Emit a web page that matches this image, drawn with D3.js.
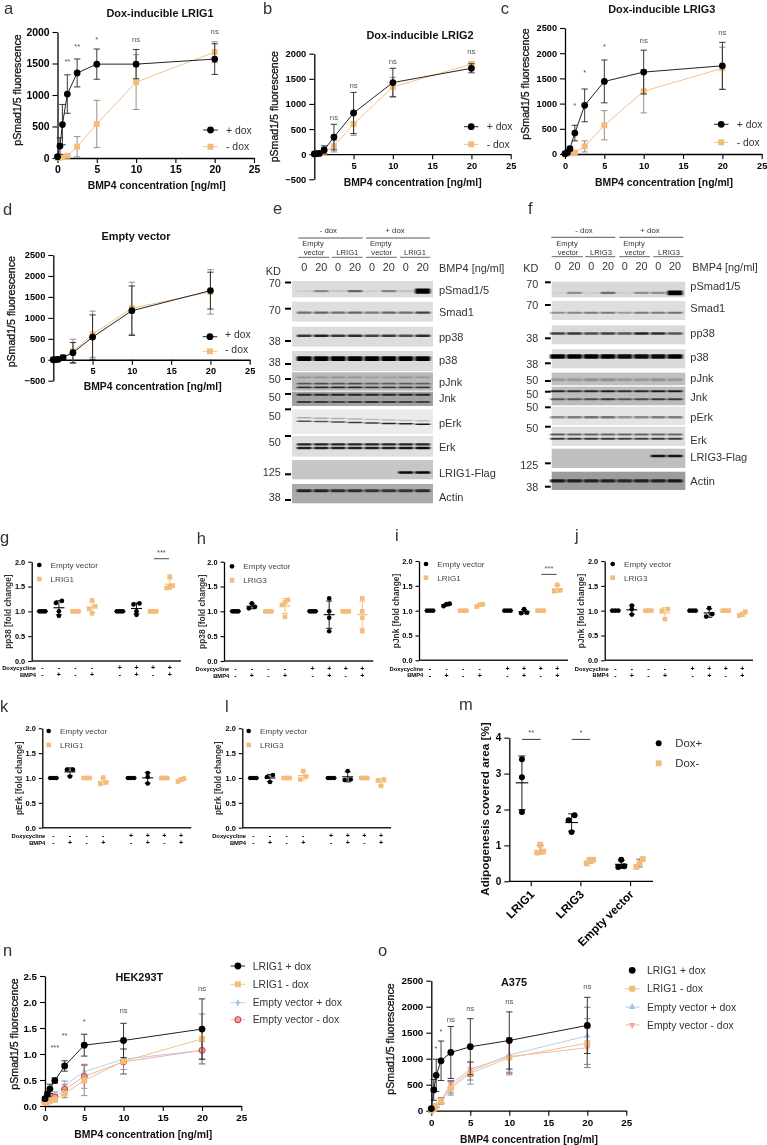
<!DOCTYPE html>
<html><head><meta charset="utf-8">
<script src="https://cdn.jsdelivr.net/npm/d3@7"></script>
<style>
html,body{margin:0;padding:0;background:#fff}
svg{display:block;filter:blur(0.4px)}
text{font-family:"Liberation Sans",Arial,sans-serif}
</style></head><body>
<svg id="c" width="767" height="1145" viewBox="0 0 767 1145"></svg>
<script>
/* ---------- DATA ---------- */
const conc = [0, 0.3125, 0.625, 1.25, 2.5, 5, 10, 20];
const xTicksDose = [0, 5, 10, 15, 20, 25];

const aPlus   = [20, 190, 530, 1015, 1350, 1490, 1490, 1570];
const aPlusSd = [10, 130, 320, 305, 222, 240, 232, 243];
const aMinus  = [5, 5, 15, 35, 180, 540, 1205, 1680];
const aMinusSd= [5, 5, 10, 15, 160, 375, 435, 165];
const aSig = [[1.25,1555,"**"],[2.5,1793,"**"],[5,1905,"*"],[10,1889,"ns"],[20,2008,"ns"]];

const bPlus   = [5, 10, 15, 85, 340, 820, 1425, 1710];
const bPlusSd = [10, 10, 20, 80, 255, 410, 285, 90];
const bMinus  = [0, 5, 5, 30, 160, 600, 1340, 1790];
const bMinusSd= [5, 5, 10, 25, 115, 225, 190, 50];
const bSig = [[2.5,730,"ns"],[5,1370,"ns"],[10,1848,"ns"],[20,2040,"ns"]];

const cPlus   = [5, 30, 105, 415, 965, 1440, 1625, 1750];
const cPlusSd = [5, 20, 40, 155, 325, 425, 435, 465];
const cMinus  = [0, 5, 15, 30, 150, 570, 1245, 1700];
const cMinusSd= [5, 5, 10, 15, 110, 290, 430, 420];
const cSig = [[1.25,992,"*"],[2.5,1652,"*"],[5,2157,"*"],[10,2262,"ns"],[20,2415,"ns"]];

const dPlus   = [0, 5, 10, 50, 170, 540, 1170, 1650];
const dPlusSd = [5, 10, 15, 50, 240, 530, 590, 440];
const dMinus  = [0, 5, 10, 60, 200, 610, 1230, 1620];
const dMinusSd= [5, 10, 15, 60, 290, 550, 620, 530];

const nL1Plus   = [0.14, 0.23, 0.33, 0.49, 0.77, 1.17, 1.26, 1.48];
const nL1PlusSd = [0.03, 0.05, 0.09, 0.05, 0.10, 0.21, 0.33, 0.58];
const nL1Minus  = [0.06, 0.08, 0.10, 0.13, 0.24, 0.49, 0.86, 1.29];
const nL1MinusSd= [0.02, 0.02, 0.03, 0.05, 0.08, 0.29, 0.24, 0.48];
const nEvPlus   = [0.09, 0.12, 0.17, 0.22, 0.40, 0.66, 0.90, 1.07];
const nEvPlusSd = [0.02, 0.03, 0.03, 0.05, 0.08, 0.14, 0.20, 0.17];
const nEvMinus  = [0.08, 0.10, 0.13, 0.17, 0.32, 0.57, 0.85, 1.07];
const nEvMinusSd= [0.02, 0.03, 0.03, 0.05, 0.09, 0.23, 0.24, 0.26];
const nSig = [[1.25,1.16,"***"],[2.5,1.39,"**"],[5,1.66,"*"],[10,1.84,"ns"],[20,2.26,"ns"]];

const oL1Plus   = [40, 400, 680, 960, 1120, 1230, 1350, 1640];
const oL1PlusSd = [20, 200, 310, 380, 500, 540, 550, 540];
const oL1Minus  = [5, 30, 90, 185, 430, 720, 1020, 1300];
const oL1MinusSd= [5, 15, 30, 60, 130, 210, 330, 470];
const oEvPlus   = [5, 35, 95, 195, 460, 760, 1070, 1440];
const oEvPlusSd = [5, 15, 30, 50, 120, 170, 330, 550];
const oEvMinus  = [5, 30, 90, 190, 510, 800, 1040, 1210];
const oEvMinusSd= [5, 15, 30, 50, 60, 140, 320, 380];
const oSig = [[0.6,1219,"*"],[1.25,1552,"*"],[2.5,1757,"ns"],[5,1969,"ns"],[10,2103,"ns"],[20,2398,"ns"]];

const doxRow = ["-","-","-","-","+","+","+","+"];
const bmpRow = ["-","+","-","+","-","+","-","+"];
const foldTicks = [0, 0.5, 1, 1.5, 2];

const one4 = [1,1,1,1], one3 = [1,1,1];
const gVals = [one4,[0.91,1.0,1.17,1.21],one4,[0.96,1.05,1.1,1.22],one4,[0.93,1.0,1.14,1.16],one4,[1.47,1.5,1.52,1.7]];
const hVals = [one4,[1.06,1.09,1.16],one4,[0.89,1.13,1.18,1.23],one4,[0.6,0.87,1.0,1.26],one4,[0.6,0.87,1.0,1.26]];
const iVals = [one3,[1.09,1.13,1.14],one3,[1.08,1.12,1.13],one3,[0.95,0.96,1.03],one3,[1.39,1.41,1.52]];
const jVals = [one3,[0.92,1.03,1.1],one3,[0.83,1.0,1.03],one3,[0.88,0.93,1.05],one3,[0.9,0.92,0.98]];
const kVals = [one3,[1.03,1.17,1.17],one3,[0.88,0.91,1.01],one3,[0.89,1.02,1.1],one3,[0.93,0.97,0.99]];
const lVals = [one3,[0.92,1.02,1.06],one3,[0.97,1.03,1.14],one3,[0.96,0.97,1.14],one3,[0.84,0.95,0.97]];

const mCats = ["LRIG1","LRIG3","Empty vector"];
const mPlus  = [[1.93,2.9,3.4],[1.37,1.7,1.84],[0.4,0.42,0.6]];
const mMinus = [[0.8,0.83,1.02],[0.5,0.6,0.6],[0.4,0.5,0.62]];
const mTicks = [0,1,2,3,4];
const mSig = ["**","*",null];

const laneNums = ["0","20","0","20","0","20","0","20"];
const eLabels = ["pSmad1/5","Smad1","pp38","p38","pJnk","Jnk","pErk","Erk","LRIG1-Flag","Actin"];
const fLabels = ["pSmad1/5","Smad1","pp38","p38","pJnk","Jnk","pErk","Erk","LRIG3-Flag","Actin"];
const eKd = ["70","70","38","38","50","50","50","50","125","38"];
const fKd = ["70","70","38","38","50","50","50","50","125","38"];

/* blot band intensities, one list per band, one number per lane */
const ePSmad=[[.06,.38,.1,.55,.06,.4,.12,1]];
const eSmad1=[[.5,.55,.5,.55,.45,.55,.5,.7]];
const ePp38 =[[.75,.85,.75,.8,.7,.75,.65,.8]];
const eP38  =[[1,1,1,1,1,1,1,1]];
const ePJnk =[[.2,.22,.22,.22,.15,.15,.2,.2],[.55,.6,.55,.6,.5,.5,.5,.5],[.75,.8,.8,.8,.7,.7,.7,.7]];
const eJnk  =[[.8,.8,.8,.8,.8,.8,.8,.8],[.65,.65,.6,.65,.7,.65,.6,.6]];
const ePErk =[[.25,.28,.25,.25,.2,.2,.2,.2],[.65,.65,.7,.75,.75,.85,.85,.9]];
const eErk  =[[.85,.85,.85,.85,.85,.85,.85,.85],[.85,.85,.85,.85,.85,.85,.9,.95]];
const eFlag =[[0,0,0,0,0,0,.95,.98]];
const eActin=[[.8,.8,.75,.75,.7,.7,.7,.75]];
const blotE=[ePSmad,eSmad1,ePp38,eP38,ePJnk,eJnk,ePErk,eErk,eFlag,eActin];

const fPSmad=[[.03,.35,.05,.5,.05,.35,.35,1]];
const fSmad1=[[.35,.4,.45,.45,.3,.45,.45,.5]];
const fPp38 =[[.7,.75,.65,.7,.6,.85,.8,.6]];
const fP38  =[[1,1,1,1,.95,.95,.95,1]];
const fPJnk =[[.2,.2,.25,.25,.2,.2,.25,.2]];
const fJnk  =[[.8,.75,.8,.85,.75,.8,.85,.85],[.55,.55,.6,.7,.55,.6,.7,.7]];
const fPErk =[[.4,.45,.5,.5,.35,.4,.45,.45]];
const fErk  =[[.6,.55,.55,.55,.55,.55,.55,.55],[.75,.75,.75,.75,.7,.7,.75,.75]];
const fFlag =[[0,0,0,0,0,0,.9,.9]];
const fActin=[[.85,.8,.8,.8,.75,.8,.8,.85]];
const blotF=[fPSmad,fSmad1,fPp38,fP38,fPJnk,fJnk,fPErk,fErk,fFlag,fActin];

/* ---------- STYLE ---------- */
const ORANGE="#F3BC7A", INK="#111";
const sty={
  plus:{sym:d3.symbolCircle,size:36,fill:"#000",stroke:"none",line:"#222",err:"#222"},
  minus:{sym:d3.symbolSquare,size:35,fill:ORANGE,stroke:"none",line:"#F3C188",err:"#8f8572"},
  evDia:{sym:d3.symbolDiamond,size:16,fill:"#A9C3E6",stroke:"none",line:"#B8CEEC",err:"#6d8dc2"},
  evRing:{sym:d3.symbolCircle,size:26,fill:"#F2A9A0",stroke:"#CF4A3D",line:"#F2B0A8",err:"#d5786a"},
  evUp:{sym:d3.symbolTriangle,size:20,fill:"#A9C3E6",stroke:"none",line:"#B8CEEC",err:"#4f72ad"},
  evDown:{sym:d3.symbolTriangle,size:20,flip:true,fill:"#F4A8A0",stroke:"none",line:"#F4B5AD",err:"#cc5a50"}
};
const svg=d3.select("#c");
const defs=svg.append("defs");
defs.append("filter").attr("id","bl").attr("x","-20%").attr("y","-100%").attr("width","140%").attr("height","300%")
  .append("feGaussianBlur").attr("stdDeviation","0.8 0.65");

function label(x,y,t,o={}){
  const s=svg.append("text").attr("x",x).attr("y",y).attr("dy",o.dy||"0.35em").text(t)
    .attr("font-size",o.fs||10).attr("fill",o.fill||INK)
    .attr("font-weight",o.w||"normal").attr("text-anchor",o.a||"middle");
  if(o.rot) s.attr("transform",`rotate(${o.rot},${x},${y})`);
  if(o.med) s.attr("stroke",o.fill||INK).attr("stroke-width",o.med);
  return s;
}
function marker(g,st,x,y){
  g.append("path").attr("d",d3.symbol().type(st.sym).size(st.size)())
   .attr("transform",`translate(${x},${y})${st.flip?" rotate(180)":""}`)
   .attr("fill",st.fill).attr("stroke",st.stroke).attr("stroke-width",st.stroke==="none"?0:1.1);
}
function styleAxis(g,fs){
  g.selectAll("path.domain").attr("stroke","#000").attr("stroke-width",1.3);
  g.selectAll("line").attr("stroke","#000").attr("stroke-width",1.1);
  g.selectAll("text").attr("font-family",'"Liberation Sans",Arial,sans-serif').attr("font-weight","bold").attr("font-size",fs).attr("fill","#000");
}

/* ---------- dose-response panels ---------- */
function dose(c){
  const x=d3.scaleLinear().domain([0,25]).range([c.x0,c.x1]);
  const y=d3.scaleLinear().domain(c.yDom).range([c.yB,c.yT]);
  const g=svg.append("g");
  g.append("g").attr("transform",`translate(${c.x0},0)`)
    .call(d3.axisLeft(y).tickValues(c.yTicks).tickSize(5).tickSizeOuter(0).tickFormat(c.yFmt||d3.format("d")))
    .call(s=>styleAxis(s,c.tickFs||9.6));
  const xTicksUse=c.no0?xTicksDose.slice(1):xTicksDose;
  g.append("g").attr("transform",`translate(0,${y(0)})`)
    .call(d3.axisBottom(x).tickValues(xTicksUse).tickSize(5).tickSizeOuter(0))
    .call(s=>styleAxis(s,c.tickFs||9.6));
  const line=d3.line().x((d,i)=>x(conc[i])).y(d=>y(d));
  c.series.forEach(s=>{
    const st=sty[s.style], sg=g.append("g");
    sg.append("path").attr("d",line(s.v)).attr("fill","none").attr("stroke",st.line).attr("stroke-width",1);
    s.v.forEach((v,i)=>{
      const px=x(conc[i]),a=y(v+s.sd[i]),b=y(Math.max(v-s.sd[i],c.yDom[0]));
      sg.append("line").attr("x1",px).attr("x2",px).attr("y1",a).attr("y2",b).attr("stroke",st.err).attr("stroke-width",.9);
      [a,b].forEach(q=>sg.append("line").attr("x1",px-3.2).attr("x2",px+3.2).attr("y1",q).attr("y2",q).attr("stroke",st.err).attr("stroke-width",.9));
    });
    s.v.forEach((v,i)=>marker(sg,st,x(conc[i]),y(v)));
  });
  (c.sig||[]).forEach(d=>label(x(d[0]),y(d[1]),d[2],{fs:d[2]==="ns"?7.8:7.5,fill:"#555",dy:d[2]==="ns"?"0.35em":"0.55em"}));
  label(c.tx,c.ty,c.title,{fs:10.9,w:"bold"});
  label(c.lx,c.ly,"BMP4 concentration [ng/ml]",{fs:10.4,w:"bold"});
  label(c.yx,c.yy,"pSmad1/5 fluorescence",{fs:10.6,rot:-90,med:.3});
  c.legend.forEach(l=>{
    if(l.line!==false) g.append("line").attr("x1",c.legX0).attr("x2",c.legX0+14.5).attr("y1",l.y).attr("y2",l.y).attr("stroke",l.style==="plus"?"#222":sty[l.style].line).attr("stroke-width",1);
    marker(g,sty[l.style],c.legX0+7.2,l.y);
    label(c.legTx,l.y+(c.legDy||0),l.t,{fs:c.legFs||10.4,a:"start",fill:"#333"});
  });
}
dose({x0:57.5,x1:254,yT:32,yB:158,yDom:[0,2000],yTicks:[0,500,1000,1500,2000],tickFs:10.4,
 series:[{style:"minus",v:aMinus,sd:aMinusSd},{style:"plus",v:aPlus,sd:aPlusSd}],sig:aSig,
 title:"Dox-inducible LRIG1",tx:160,ty:12.7,lx:156.7,ly:185.7,yx:17.3,yy:90,
 legX0:203.3,legTx:226,legend:[{y:130,style:"plus",t:"+ dox"},{y:146.7,style:"minus",t:"- dox"}]});
dose({x0:314.3,x1:510.7,yT:53.7,yB:179.3,yDom:[-500,2000],yTicks:[-500,0,500,1000,1500,2000],no0:true,tickFs:9.3,
 series:[{style:"minus",v:bMinus,sd:bMinusSd},{style:"plus",v:bPlus,sd:bPlusSd}],sig:bSig,
 title:"Dox-inducible LRIG2",tx:420,ty:35,lx:412.7,ly:182,yx:274.3,yy:106.7,
 legX0:464,legTx:486.7,legend:[{y:126.7,style:"plus",t:"+ dox"},{y:144.3,style:"minus",t:"- dox"}]});
dose({x0:565,x1:761.7,yT:28,yB:154,yDom:[0,2500],yTicks:[0,500,1000,1500,2000,2500],tickFs:9.2,
 series:[{style:"minus",v:cMinus,sd:cMinusSd},{style:"plus",v:cPlus,sd:cPlusSd}],sig:cSig,
 title:"Dox-inducible LRIG3",tx:661.7,ty:9.3,lx:664,ly:182,yx:525,yy:84,
 legX0:714,legTx:736.7,legend:[{y:124.3,style:"plus",t:"+ dox"},{y:142.3,style:"minus",t:"- dox"}]});
dose({x0:53.3,x1:249.7,yT:255,yB:380.7,yDom:[-500,2500],yTicks:[-500,0,500,1000,1500,2000,2500],no0:true,tickFs:9.2,
 series:[{style:"minus",v:dMinus,sd:dMinusSd},{style:"plus",v:dPlus,sd:dPlusSd}],
 title:"Empty vector",tx:136,ty:236,lx:152.7,ly:386.7,yx:11.7,yy:311.7,
 legX0:202.7,legTx:225,legDy:-2,legend:[{y:336.7,style:"plus",t:"+ dox"},{y:351.3,style:"minus",t:"- dox"}]});
dose({x0:45,x1:241.3,yT:976,yB:1106,yDom:[0,2.5],yTicks:[0,.5,1,1.5,2,2.5],yFmt:d3.format(".1f"),tickFs:9.8,
 series:[{style:"evDia",v:nEvPlus,sd:nEvPlusSd},{style:"evRing",v:nEvMinus,sd:nEvMinusSd},{style:"minus",v:nL1Minus,sd:nL1MinusSd},{style:"plus",v:nL1Plus,sd:nL1PlusSd}],sig:nSig,
 title:"HEK293T",tx:139.3,ty:977.3,lx:143.3,ly:1134.3,yx:14.3,yy:1034,
 legX0:230.7,legTx:252.7,legend:[{y:966,style:"plus",t:"LRIG1 + dox"},{y:984.3,style:"minus",t:"LRIG1 - dox"},{y:1002.7,style:"evDia",t:"Empty vector + dox"},{y:1019.7,style:"evRing",t:"Empty vector - dox"}]});
dose({x0:431.3,x1:626.3,yT:980.7,yB:1110.7,yDom:[0,2500],yTicks:[0,500,1000,1500,2000,2500],tickFs:9.8,
 series:[{style:"evUp",v:oEvPlus,sd:oEvPlusSd},{style:"evDown",v:oEvMinus,sd:oEvMinusSd},{style:"minus",v:oL1Minus,sd:oL1MinusSd},{style:"plus",v:oL1Plus,sd:oL1PlusSd}],sig:oSig,
 title:"A375",tx:514,ty:981.7,lx:529,ly:1139,yx:390,yy:1039,
 legX0:625,legTx:647,legend:[{y:970.3,style:"plus",t:"LRIG1 + dox",line:false},{y:988.7,style:"minus",t:"LRIG1 - dox"},{y:1007,style:"evUp",t:"Empty vector + dox"},{y:1025,style:"evDown",t:"Empty vector - dox"}]});

/* ---------- fold-change dot plots ---------- */
function swarm(vals,y,thresh,spread){
  const s=vals.slice().sort(d3.ascending),out=[];let grp=[s[0]];
  const flush=()=>{const n=grp.length,st=n===2?spread.two:spread.span/(n-1||1);
    grp.forEach((v,i)=>out.push({v,off:n===1?0:(i-(n-1)/2)*st}));};
  for(let i=1;i<s.length;i++){ if(Math.abs(y(s[i])-y(grp[grp.length-1]))<thresh) grp.push(s[i]); else {flush();grp=[s[i]];}}
  flush();return out;
}
const slots=[0,1,2,3,4.67,5.67,6.67,7.67];
function fold(c){
  const slot=d3.scaleLinear().domain([0,7.67]).range([c.c0,c.c1]);
  const y=d3.scaleLinear().domain([0,2]).range([c.yB,c.yT]);
  const g=svg.append("g");
  g.append("g").attr("transform",`translate(${c.ax},0)`)
   .call(d3.axisLeft(y).tickValues(foldTicks).tickSize(3.5).tickSizeOuter(0).tickFormat(d3.format(".1f")))
   .call(s=>styleAxis(s,7.4));
  g.append("line").attr("x1",c.ax).attr("x2",c.xEnd).attr("y1",c.yB).attr("y2",c.yB).attr("stroke","#222").attr("stroke-width",1.4);
  c.vals.forEach((arr,i)=>{
    const cx=slot(slots[i]),isOr=(i%4)>1,col=isOr?ORANGE:"#000";
    const m=d3.mean(arr),sd=d3.deviation(arr);
    g.append("line").attr("x1",cx).attr("x2",cx).attr("y1",y(m+sd)).attr("y2",y(m-sd)).attr("stroke",col).attr("stroke-width",.9);
    [m+sd,m-sd].forEach(q=>g.append("line").attr("x1",cx-3).attr("x2",cx+3).attr("y1",y(q)).attr("y2",y(q)).attr("stroke",col).attr("stroke-width",.9));
    swarm(arr,y,3.2,{two:6,span:6}).forEach(p=>{
      marker(g,{sym:isOr?d3.symbolSquare:d3.symbolCircle,size:isOr?21:17,fill:col,stroke:"none"},cx+p.off,y(p.v));
    });
    g.append("line").attr("x1",cx-5.5).attr("x2",cx+5.5).attr("y1",y(m)).attr("y2",y(m)).attr("stroke",col).attr("stroke-width",1.1);
    label(cx,c.r1,doxRow[i],{fs:7,w:"bold",fill:"#000"});
    label(cx,c.r2,bmpRow[i],{fs:7,w:"bold",fill:"#000"});
  });
  label(c.rLab,c.r1,"Doxycycline",{fs:5.8,w:"bold",a:"end",fill:"#000"});
  label(c.rLab,c.r2,"BMP4",{fs:5.8,w:"bold",a:"end",fill:"#000"});
  label(c.ylx,(c.yT+c.yB)/2+.3,c.ylab,{fs:8.4,rot:-90,w:"bold",fill:"#333"});
  marker(g,{sym:d3.symbolCircle,size:17,fill:"#000",stroke:"none"},c.legX,c.leg1);
  marker(g,{sym:d3.symbolSquare,size:21,fill:ORANGE,stroke:"none"},c.legX,c.leg2);
  label(c.legX+11.3,c.leg1,"Empty vector",{fs:8.1,a:"start",fill:"#444"});
  label(c.legX+11.3,c.leg2,c.name,{fs:8.1,a:"start",fill:"#444"});
  if(c.sig!=null){
    const mid=(slot(slots[6])+slot(slots[7]))/2;
    g.append("line").attr("x1",mid-7.6).attr("x2",mid+7.6).attr("y1",y(c.sig)).attr("y2",y(c.sig)).attr("stroke","#333").attr("stroke-width",.9);
    label(mid,y(c.sig)-7,"***",{fs:7.5,fill:"#555",dy:"0.5em"});
  }
}
fold({vals:gVals,ax:31.7,xEnd:181,yT:561.7,yB:661,c0:42.3,c1:169.7,r1:667.7,r2:674.7,rLab:36,ylx:8.3,ylab:"pp38 [fold change]",legX:39.3,leg1:565,leg2:579,name:"LRIG1",sig:2.06});
fold({vals:hVals,ax:224,xEnd:373.3,yT:561.7,yB:661,c0:235.3,c1:362.3,r1:669,r2:676,rLab:229.3,ylx:201.7,ylab:"pp38 [fold change]",legX:232,leg1:566.3,leg2:580.3,name:"LRIG3"});
fold({vals:iVals,ax:419,xEnd:568,yT:561,yB:660.3,c0:430,c1:557.3,r1:668.7,r2:675.3,rLab:423.3,ylx:396,ylab:"pJnk [fold change]",legX:426,leg1:564,leg2:577.7,name:"LRIG1",sig:1.73});
fold({vals:jVals,ax:604.7,xEnd:753,yT:561,yB:660.3,c0:615.3,c1:742.3,r1:668.7,r2:675.3,rLab:608.7,ylx:581.3,ylab:"pJnk [fold change]",legX:612.7,leg1:564,leg2:577.7,name:"LRIG3"});
fold({vals:kVals,ax:42.3,xEnd:191.3,yT:728.3,yB:827.7,c0:53.3,c1:181,r1:836,r2:842.7,rLab:45.3,ylx:18.7,ylab:"pErk [fold change]",legX:48.7,leg1:731,leg2:745,name:"LRIG1"});
fold({vals:lVals,ax:242.3,xEnd:391,yT:728.3,yB:827.7,c0:253.3,c1:381,r1:836,r2:842.7,rLab:246,ylx:218.3,ylab:"pErk [fold change]",legX:248.7,leg1:731,leg2:745,name:"LRIG3"});

/* ---------- panel m ---------- */
(function(){
  const xb=d3.scaleBand().domain(mCats).range([506.4,655.4]);
  const y=d3.scaleLinear().domain([0,4]).range([881.3,737.7]);
  const g=svg.append("g");
  g.append("g").attr("transform","translate(509.3,0)")
   .call(d3.axisLeft(y).tickValues(mTicks).tickSize(5).tickSizeOuter(0).tickFormat(d3.format("d"))).call(s=>styleAxis(s,10));
  const xa=g.append("g").attr("transform","translate(0,881.3)")
   .call(d3.axisBottom(xb).tickSize(5).tickSizeOuter(0)).call(s=>styleAxis(s,11.6));
  xa.select("path.domain").attr("d","M509.3,0H653");
  xa.selectAll("text").attr("text-anchor","end").attr("transform","translate(1,11) rotate(-45)").attr("dy","0.35em").attr("y",0).attr("x",0);
  const drawSet=(sets,off,isOr)=>sets.forEach((arr,i)=>{
    const cx=xb(mCats[i])+xb.bandwidth()/2+off,m=d3.mean(arr),sd=d3.deviation(arr),col=isOr?"#666":"#000";
    g.append("line").attr("x1",cx).attr("x2",cx).attr("y1",y(m+sd)).attr("y2",y(m-sd)).attr("stroke",col).attr("stroke-width",.9);
    [m+sd,m-sd].forEach(q=>g.append("line").attr("x1",cx-3.5).attr("x2",cx+3.5).attr("y1",y(q)).attr("y2",y(q)).attr("stroke",col).attr("stroke-width",.9));
    swarm(arr,y,5.5,{two:6,span:6.5}).forEach(p=>{
      marker(g,{sym:isOr?d3.symbolSquare:d3.symbolCircle,size:isOr?34:28,fill:isOr?ORANGE:"#000",stroke:"none"},cx+p.off,y(p.v));
    });
    if(!isOr) g.append("line").attr("x1",cx-6.3).attr("x2",cx+6.3).attr("y1",y(m)).attr("y2",y(m)).attr("stroke","#000").attr("stroke-width",1.1);
  });
  drawSet(mPlus,-9.3,false); drawSet(mMinus,9,true);
  mSig.forEach((s,i)=>{ if(!s) return;
    const cx=xb(mCats[i])+xb.bandwidth()/2;
    g.append("line").attr("x1",cx-9.2).attr("x2",cx+9.4).attr("y1",739.4).attr("y2",739.4).attr("stroke","#222").attr("stroke-width",.9);
    label(cx,y(4)-6,s,{fs:7.5,fill:"#555",dy:"0.5em"});
  });
  label(485,809,"Adipogenesis covered area [%]",{fs:11.7,rot:-90,w:"bold",fill:"#111"});
  marker(g,{sym:d3.symbolCircle,size:28,fill:"#000",stroke:"none"},658.7,743.3);
  marker(g,{sym:d3.symbolSquare,size:34,fill:ORANGE,stroke:"none"},658.7,763.3);
  label(675.3,743.3,"Dox+",{fs:11.3,a:"start",fill:"#333"});
  label(675.3,763.3,"Dox-",{fs:11.3,a:"start",fill:"#333"});
})();

/* ---------- western blots ---------- */
function blot(c){
  const lane=d3.scalePoint().domain(d3.range(8)).range(c.lanes);
  const g=svg.append("g");
  const tc="#333";
  c.rows.forEach((r,ri)=>{
    g.append("rect").attr("x",c.bx0).attr("y",r.y0).attr("width",c.bx1-c.bx0).attr("height",r.y1-r.y0).attr("fill",r.bg);
    const bands=c.data[ri];
    const bg=g.append("g").attr("filter","url(#bl)");
    bands.forEach((b,bi)=>{
      b.forEach((v,li)=>{
        const h=r.h*(r.boost&&li===7&&ri===0?2.2:1);
        const yc=r.y0+(r.y1-r.y0)*r.f[bi]+(r.tilt||0)*li;
        bg.append("rect").attr("x",lane(li)-7.6).attr("y",yc-h/2).attr("width",15.2).attr("height",h)
          .attr("rx",1).attr("fill","#000").attr("opacity",v);
      });
    });
    label(c.rx,r.ly,c.labels[ri],{fs:11,a:"start",fill:tc});
    label(c.kdX,r.ky,c.kd[ri],{fs:10.8,a:"end",fill:tc});
    g.append("line").attr("x1",c.tx0).attr("x2",c.tx1).attr("y1",r.ty).attr("y2",r.ty).attr("stroke","#000").attr("stroke-width",2);
  });
  laneNums.forEach((t,i)=>label(lane(i),c.numY,t,{fs:10.8,fill:tc}));
  label(c.rx0,c.numY,"BMP4 [ng/ml]",{fs:10.9,a:"start",fill:tc});
  label(c.kdLab,c.kdY,"KD",{fs:10.9,a:"start",fill:tc});
  c.heads.forEach(h=>{
    label(h.cx,230,h.t,{fs:7.8,fill:tc});
    g.append("line").attr("x1",h.x0).attr("x2",h.x1).attr("y1",c.hy).attr("y2",c.hy).attr("stroke","#444").attr("stroke-width",.9);
  });
  c.subs.forEach(s=>{
    if(s.t==="Empty"){label(s.cx-1,243.3,"Empty",{fs:7.6,fill:tc});label(s.cx,252.7,"vector",{fs:7.6,fill:tc});}
    else label(s.cx,252.7,s.t,{fs:7.6,fill:tc});
    g.append("line").attr("x1",s.x0).attr("x2",s.x1).attr("y1",c.sy).attr("y2",c.sy).attr("stroke","#555").attr("stroke-width",.9);
  });
}
blot({data:blotE,labels:eLabels,kd:eKd,bx0:292,bx1:433,lanes:[304.3,422.7],rx:439,rx0:439,kdX:280.7,tx0:285,tx1:291,numY:267.7,kdLab:265.7,kdY:270.7,hy:238,sy:257.3,
 heads:[{t:"- dox",cx:328.3,x0:298.3,x1:362.7},{t:"+ dox",cx:395,x0:366,x1:430}],
 subs:[{t:"Empty",cx:314,x0:298.3,x1:329.3},{t:"LRIG1",cx:347.3,x0:332,x1:362.7},{t:"Empty",cx:381.7,x0:366,x1:396.7},{t:"LRIG1",cx:415,x0:400,x1:430}],
 rows:[
 {y0:281,y1:297.3,bg:"#dcdcdc",f:[.62],h:2.4,boost:true,ly:290,ky:283.3,ty:282.5},
 {y0:301.7,y1:321.7,bg:"#dedede",f:[.55],h:2.3,ly:311.7,ky:310,ty:308.7},
 {y0:326.7,y1:346.7,bg:"#dcdcdc",f:[.45],h:2.5,ly:336.7,ky:341,ty:341},
 {y0:351,y1:371,bg:"#dadada",f:[.38],h:4.6,ly:360,ky:362.7,ty:364},
 {y0:372.3,y1:390.7,bg:"#b9b9b9",f:[.28,.62,.82],h:1.8,ly:381.7,ky:379,ty:379},
 {y0:391.7,y1:406,bg:"#a2a2a2",f:[.22,.72],h:2,ly:398.3,ky:397.3,ty:394},
 {y0:409.3,y1:434,bg:"#ebebeb",f:[.34,.48],h:1.5,tilt:.45,ly:423.3,ky:416,ty:409.3},
 {y0:436,y1:456.7,bg:"#dedede",f:[.4,.58],h:2.3,ly:446.7,ky:442.3,ty:436},
 {y0:460,y1:479.3,bg:"#c6c6c6",f:[.65],h:2.5,ly:473.3,ky:472.7,ty:474.3},
 {y0:484,y1:503.3,bg:"#ababab",f:[.35],h:3,ly:496.7,ky:497.3,ty:500}
 ]});
blot({data:blotF,labels:fLabels,kd:fKd,bx0:551.7,bx1:685.3,lanes:[557.7,675],rx:690.3,rx0:692.3,kdX:538.3,tx0:545,tx1:550.7,numY:266.7,kdLab:523.3,kdY:268.3,hy:237.3,sy:256.7,
 heads:[{t:"- dox",cx:584,x0:551.3,x1:615.3},{t:"+ dox",cx:650,x0:619.3,x1:683.3}],
 subs:[{t:"Empty",cx:568,x0:551.7,x1:582.7},{t:"LRIG3",cx:601,x0:585.3,x1:615.3},{t:"Empty",cx:635,x0:619.3,x1:650},{t:"LRIG3",cx:669,x0:653.3,x1:683.3}],
 rows:[
 {y0:281.7,y1:297.3,bg:"#d9d9d9",f:[.72],h:2.2,boost:true,ly:285.7,ky:284.3,ty:282.3},
 {y0:301,y1:320,bg:"#dedede",f:[.62],h:2,ly:308,ky:305,ty:305},
 {y0:325.3,y1:344.3,bg:"#d9d9d9",f:[.43],h:2.6,ly:333,ky:338,ty:338.3},
 {y0:349.3,y1:368.3,bg:"#dadada",f:[.38],h:4.4,ly:356.7,ky:364,ty:363.3},
 {y0:372.7,y1:385.3,bg:"#c0c0c0",f:[.55],h:3,ly:378.3,ky:380.3,ty:381},
 {y0:386.7,y1:405.3,bg:"#bcbcbc",f:[.25,.68],h:2,ly:396.7,ky:394,ty:391.7},
 {y0:406.7,y1:425,bg:"#e4e4e4",f:[.58],h:2.6,ly:417.3,ky:407.3,ty:407.3},
 {y0:426.7,y1:446,bg:"#dedede",f:[.4,.62],h:2,ly:440,ky:428.7,ty:426.7},
 {y0:448.7,y1:468,bg:"#bfbfbf",f:[.38],h:2.5,ly:457.3,ky:465,ty:463.3},
 {y0:471.7,y1:490,bg:"#9c9c9c",f:[.5],h:3.2,ly:480.7,ky:487.3,ty:486.7}
 ]});

/* ---------- panel letters ---------- */
const letters=[["a",4,14],["b",263,14],["c",500.7,14],["d",3,215],["e",273,214],["f",528,214],["g",0,543],["h",196.7,544],["i",395,541],["j",575,541],["k",0,711.7],["l",225,711.7],["m",459,710],["n",3,955.7],["o",378,955.7]];
letters.forEach(l=>label(l[1],l[2],l[0],{fs:16.5,a:"start",fill:"#333",dy:"0"}));
</script>
</body></html>
